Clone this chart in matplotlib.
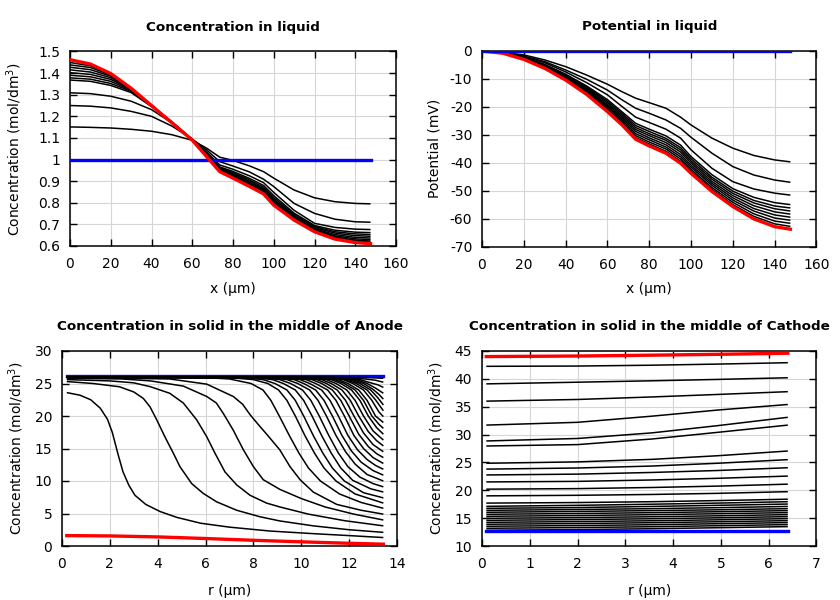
import matplotlib
matplotlib.use("Agg")
import matplotlib.pyplot as plt
from matplotlib.ticker import FuncFormatter

plt.rcParams['font.family'] = ['DejaVu Sans']
plt.rcParams['axes.unicode_minus'] = False

# ---------------- Panel 1: concentration in liquid ----------------
x_liq = [0, 10, 20, 30, 40, 50, 60, 67, 73.5, 80, 88, 95, 100, 110, 120, 130, 140, 147.5]
liq_initial = [1.0] * len(x_liq)
liq_final = [1.462, 1.442, 1.398, 1.33, 1.25, 1.17, 1.09, 1.014, 0.944, 0.914, 0.876, 0.841, 0.789, 0.72, 0.666, 0.632, 0.616, 0.611]
liq_curves = [
    [1.151, 1.149, 1.146, 1.14, 1.131, 1.115, 1.089, 1.053, 1.011, 0.996, 0.971, 0.944, 0.914, 0.859, 0.823, 0.805, 0.797, 0.795],
    [1.25, 1.247, 1.239, 1.223, 1.2, 1.155, 1.095, 1.045, 0.99, 0.97, 0.943, 0.909, 0.875, 0.797, 0.751, 0.724, 0.712, 0.71],
    [1.309, 1.305, 1.293, 1.27, 1.231, 1.17, 1.093, 1.035, 0.975, 0.955, 0.925, 0.893, 0.848, 0.765, 0.705, 0.686, 0.678, 0.676],
    [1.368, 1.362, 1.343, 1.31, 1.245, 1.175, 1.093, 1.03, 0.966, 0.945, 0.913, 0.88, 0.833, 0.752, 0.695, 0.673, 0.664, 0.662],
    [1.378, 1.372, 1.352, 1.316, 1.247, 1.174, 1.092, 1.028, 0.962, 0.939, 0.906, 0.872, 0.824, 0.746, 0.69, 0.666, 0.656, 0.653],
    [1.39, 1.383, 1.362, 1.32, 1.248, 1.173, 1.092, 1.025, 0.958, 0.934, 0.9, 0.865, 0.816, 0.74, 0.685, 0.66, 0.648, 0.645],
    [1.402, 1.394, 1.371, 1.324, 1.249, 1.172, 1.091, 1.023, 0.955, 0.929, 0.894, 0.859, 0.809, 0.735, 0.68, 0.653, 0.64, 0.637],
    [1.415, 1.405, 1.379, 1.326, 1.25, 1.171, 1.091, 1.021, 0.952, 0.925, 0.889, 0.854, 0.803, 0.731, 0.676, 0.647, 0.633, 0.63],
    [1.427, 1.416, 1.386, 1.328, 1.25, 1.171, 1.09, 1.019, 0.95, 0.921, 0.885, 0.85, 0.798, 0.728, 0.673, 0.642, 0.627, 0.623],
    [1.438, 1.426, 1.391, 1.329, 1.25, 1.17, 1.09, 1.017, 0.948, 0.918, 0.881, 0.846, 0.794, 0.725, 0.67, 0.638, 0.622, 0.618],
    [1.449, 1.434, 1.395, 1.33, 1.25, 1.17, 1.09, 1.015, 0.946, 0.916, 0.878, 0.843, 0.791, 0.722, 0.668, 0.635, 0.619, 0.614],
]

# ---------------- Panel 2: potential in liquid ----------------
pot_initial = [0.0] * len(x_liq)
pot_final = [0, -0.8, -3.0, -6.2, -10.4, -15.5, -21.7, -26.5, -31.6, -34.0, -36.6, -40.2, -43.8, -50.3, -55.7, -60.1, -62.9, -63.8]
pot_curves = [
    [0, -0.5, -1.4, -3.2, -5.6, -8.6, -11.9, -14.6, -16.9, -18.5, -20.5, -23.7, -26.5, -31.2, -34.8, -37.4, -39.0, -39.7],
    [0, -0.6, -1.8, -3.8, -6.8, -10.1, -14.0, -17.5, -20.5, -22.3, -24.7, -27.7, -30.9, -36.6, -41.4, -44.4, -46.2, -47.0],
    [0, -0.6, -2.0, -4.2, -7.5, -11.3, -15.7, -19.9, -23.7, -25.6, -28.0, -31.2, -35.4, -42.0, -46.8, -49.4, -50.9, -51.6],
    [0, -0.7, -2.3, -4.8, -8.3, -12.5, -17.4, -21.8, -25.9, -28.0, -30.4, -33.7, -37.8, -44.3, -49.3, -52.4, -54.3, -55.0],
    [0, -0.7, -2.4, -5.0, -8.6, -12.9, -18.0, -22.4, -26.7, -28.8, -31.3, -34.6, -38.6, -45.2, -50.2, -53.5, -55.5, -56.2],
    [0, -0.7, -2.5, -5.1, -8.9, -13.3, -18.5, -23.0, -27.4, -29.6, -32.0, -35.4, -39.4, -45.9, -51.0, -54.4, -56.5, -57.3],
    [0, -0.7, -2.6, -5.3, -9.1, -13.7, -19.1, -23.6, -28.1, -30.3, -32.8, -36.2, -40.1, -46.7, -51.8, -55.4, -57.6, -58.4],
    [0, -0.7, -2.7, -5.5, -9.4, -14.0, -19.6, -24.2, -28.8, -31.1, -33.6, -37.1, -40.9, -47.4, -52.6, -56.4, -58.7, -59.5],
    [0, -0.8, -2.7, -5.7, -9.7, -14.4, -20.1, -24.8, -29.6, -31.8, -34.4, -37.9, -41.6, -48.1, -53.4, -57.3, -59.8, -60.6],
    [0, -0.8, -2.8, -5.9, -9.9, -14.8, -20.7, -25.4, -30.3, -32.6, -35.1, -38.7, -42.4, -48.9, -54.2, -58.3, -60.9, -61.7],
    [0, -0.8, -2.9, -6.0, -10.2, -15.2, -21.2, -26.0, -31.0, -33.3, -35.9, -39.5, -43.1, -49.6, -55.0, -59.2, -61.9, -62.8],
]

# ---------------- Panel 3: solid concentration, anode ----------------
anode_initial_r = [0.2, 13.43]
anode_initial_c = [26.1, 26.1]
anode_final_r = [0.2, 2, 4, 6, 8, 10, 12, 13.43]
anode_final_c = [1.6, 1.55, 1.4, 1.15, 0.88, 0.64, 0.42, 0.28]
anode_r = [
    [0.2, 0.75, 1.2, 1.6, 1.9, 2.1, 2.35, 2.55, 2.8, 3.05, 3.5, 4.1, 4.8, 5.8, 7.0, 8.7, 10.5, 12.0, 13.43],
    [0.2, 1.3, 2.4, 3.0, 3.4, 3.68, 3.96, 4.3, 4.65, 4.93, 5.42, 5.9, 6.46, 7.3, 8.27, 9.11, 10.5, 12.0, 13.43],
    [0.2, 2.0, 3.0, 3.7, 4.5, 5.07, 5.63, 6.05, 6.39, 6.81, 7.3, 7.86, 8.55, 9.11, 10.3, 11.8, 13.43],
    [0.2, 2.5, 3.7, 5.07, 6.05, 6.45, 6.74, 7.16, 7.58, 8.0, 8.41, 9.11, 10.0, 11.0, 12.2, 13.43],
    [0.2, 4.5, 6.05, 7.16, 7.55, 7.86, 8.2, 8.6, 9.1, 9.53, 9.95, 10.5, 11.48, 12.5, 13.43],
    [0.2, 6.0, 7.0, 7.9, 8.4, 8.73, 9.08, 9.5, 9.9, 10.3, 10.8, 11.6, 12.5, 13.43],
    [0.2, 7.0, 8.0, 8.6, 9.05, 9.4, 9.75, 10.15, 10.55, 10.95, 11.45, 12.25, 13.43],
    [0.2, 7.5, 8.4, 8.9, 9.4, 9.75, 10.1, 10.5, 10.9, 11.3, 11.8, 12.6, 13.43],
    [0.2, 8.0, 8.8, 9.25, 9.75, 10.1, 10.45, 10.85, 11.25, 11.65, 12.15, 12.9, 13.43],
    [0.2, 8.3, 9.1, 9.55, 10.05, 10.4, 10.75, 11.15, 11.55, 11.95, 12.45, 13.0, 13.43],
    [0.2, 8.6, 9.4, 9.85, 10.35, 10.7, 11.05, 11.45, 11.85, 12.25, 12.75, 13.43],
    [0.2, 8.9, 9.7, 10.1, 10.6, 10.95, 11.3, 11.7, 12.1, 12.5, 13.0, 13.43],
    [0.2, 9.2, 9.95, 10.35, 10.85, 11.2, 11.55, 11.95, 12.35, 12.75, 13.1, 13.43],
    [0.2, 9.5, 10.2, 10.6, 11.1, 11.45, 11.8, 12.2, 12.6, 13.0, 13.43],
    [0.2, 9.8, 10.45, 10.85, 11.3, 11.65, 12.0, 12.4, 12.8, 13.15, 13.43],
    [0.2, 10.0, 10.65, 11.05, 11.5, 11.85, 12.2, 12.6, 13.0, 13.43],
    [0.2, 10.2, 10.85, 11.25, 11.7, 12.05, 12.4, 12.8, 13.15, 13.43],
    [0.2, 10.4, 11.05, 11.45, 11.9, 12.25, 12.6, 13.0, 13.43],
    [0.2, 10.6, 11.25, 11.65, 12.1, 12.45, 12.8, 13.15, 13.43],
    [0.2, 10.8, 11.4, 11.8, 12.25, 12.6, 12.95, 13.25, 13.43],
    [0.2, 10.9, 11.55, 11.95, 12.4, 12.75, 13.1, 13.43],
    [0.2, 11.1, 11.75, 12.15, 12.6, 12.95, 13.25, 13.43],
    [0.2, 11.2, 11.85, 12.3, 12.75, 13.1, 13.43],
    [0.2, 11.35, 12.0, 12.45, 12.9, 13.2, 13.43],
    [0.2, 11.5, 12.15, 12.6, 13.0, 13.25, 13.43],
    [0.2, 11.65, 12.3, 12.75, 13.1, 13.43],
    [0.2, 11.8, 12.45, 12.9, 13.2, 13.43],
    [0.2, 12.0, 12.65, 13.1, 13.43],
    [0.2, 12.3, 12.9, 13.43],
]
anode_c = [
    [23.6, 23.2, 22.5, 21.2, 19.5, 17.5, 14.0, 11.4, 9.3, 7.8, 6.4, 5.3, 4.4, 3.5, 2.9, 2.3, 1.9, 1.6, 1.3],
    [25.3, 25.0, 24.5, 23.7, 22.7, 21.4, 19.4, 16.8, 14.3, 12.2, 9.6, 8.1, 6.8, 5.5, 4.5, 3.85, 3.1, 2.5, 2.1],
    [25.6, 25.4, 25.1, 24.5, 23.5, 22.0, 19.4, 16.8, 14.3, 11.4, 9.4, 7.8, 6.6, 6.0, 4.9, 3.9, 3.1],
    [25.8, 25.7, 25.4, 24.6, 23.0, 22.0, 20.4, 17.8, 14.8, 12.2, 10.2, 8.7, 7.3, 6.0, 4.9, 4.0],
    [25.9, 25.7, 24.9, 23.0, 21.8, 20.2, 18.7, 17.0, 14.8, 12.2, 10.2, 8.3, 6.4, 5.5, 4.9],
    [26.0, 25.9, 25.7, 25.0, 24.0, 22.4, 20.0, 17.0, 14.3, 12.0, 10.0, 8.0, 6.7, 5.8],
    [26.0, 25.9, 25.6, 25.0, 24.0, 22.4, 20.0, 17.0, 14.3, 12.0, 10.0, 8.0, 6.6],
    [26.0, 25.9, 25.6, 25.0, 24.0, 22.4, 20.0, 17.0, 14.3, 12.0, 10.0, 8.2, 7.4],
    [26.0, 25.9, 25.6, 25.0, 24.0, 22.4, 20.0, 17.0, 14.3, 12.0, 10.1, 8.8, 8.3],
    [26.0, 25.9, 25.6, 25.0, 24.0, 22.4, 20.0, 17.0, 14.3, 12.2, 10.6, 9.6, 9.1],
    [26.0, 25.9, 25.6, 25.0, 24.0, 22.4, 20.0, 17.0, 14.5, 12.6, 11.0, 10.0],
    [26.0, 25.9, 25.6, 25.0, 24.0, 22.4, 20.0, 17.0, 14.6, 12.9, 11.6, 10.9],
    [26.0, 25.9, 25.6, 25.0, 24.0, 22.4, 20.0, 17.0, 14.8, 13.3, 12.4, 11.8],
    [26.0, 25.9, 25.6, 25.0, 24.0, 22.4, 20.0, 17.0, 15.0, 13.6, 12.7],
    [26.0, 25.9, 25.6, 25.0, 24.0, 22.4, 20.0, 17.2, 15.3, 14.2, 13.6],
    [26.0, 25.9, 25.6, 25.0, 24.0, 22.4, 20.0, 17.4, 15.6, 14.5],
    [26.0, 25.9, 25.6, 25.0, 24.0, 22.4, 20.0, 17.6, 16.2, 15.4],
    [26.0, 25.9, 25.6, 25.0, 24.0, 22.4, 20.0, 17.7, 16.3],
    [26.0, 25.9, 25.6, 25.0, 24.0, 22.4, 20.0, 18.2, 17.2],
    [26.0, 25.9, 25.6, 25.0, 24.0, 22.4, 20.0, 18.7, 18.1],
    [26.0, 25.9, 25.6, 25.0, 24.0, 22.4, 20.0, 19.0],
    [26.0, 25.9, 25.6, 25.0, 24.0, 22.4, 20.6, 19.9],
    [26.0, 25.9, 25.6, 25.0, 24.0, 22.5, 20.8],
    [26.0, 25.9, 25.6, 25.0, 24.0, 22.8, 21.7],
    [26.0, 25.9, 25.6, 25.0, 24.1, 23.3, 22.6],
    [26.0, 25.9, 25.6, 25.0, 24.3, 23.5],
    [26.0, 25.9, 25.6, 25.1, 24.8, 24.4],
    [26.0, 25.9, 25.7, 25.5, 25.2],
    [26.0, 25.95, 25.9, 25.8],
]

# ---------------- Panel 4: solid concentration, cathode ----------------
r_cath = [0.09, 2.0, 3.55, 4.93, 6.4]
cath_initial = [12.65, 12.65, 12.65, 12.65, 12.65]
cath_final = [44.0, 44.1, 44.25, 44.4, 44.6]
cath_curves = [
    [42.25, 42.3, 42.45, 42.65, 42.9],
    [39.1, 39.4, 39.65, 39.9, 40.2],
    [36.0, 36.3, 36.75, 37.2, 37.7],
    [31.7, 32.2, 33.3, 34.4, 35.4],
    [28.85, 29.3, 30.3, 31.6, 33.1],
    [27.95, 28.2, 29.2, 30.4, 31.7],
    [24.85, 25.1, 25.55, 26.2, 27.05],
    [23.8, 24.0, 24.35, 24.85, 25.5],
    [22.75, 22.9, 23.2, 23.55, 24.05],
    [21.5, 21.6, 21.85, 22.15, 22.55],
    [20.2, 20.3, 20.5, 20.75, 21.1],
    [19.0, 19.1, 19.25, 19.45, 19.75],
    [17.7, 17.8, 17.95, 18.15, 18.4],
    [17.12, 17.3, 17.5, 17.7, 17.95],
    [16.76, 16.9, 17.1, 17.3, 17.53],
    [16.4, 16.55, 16.7, 16.88, 17.1],
    [16.05, 16.2, 16.35, 16.5, 16.7],
    [15.69, 15.83, 15.98, 16.15, 16.35],
    [15.33, 15.47, 15.62, 15.79, 15.99],
    [14.97, 15.1, 15.25, 15.42, 15.63],
    [14.61, 14.74, 14.89, 15.06, 15.27],
    [14.25, 14.38, 14.53, 14.7, 14.91],
    [13.9, 14.03, 14.18, 14.35, 14.55],
    [13.54, 13.67, 13.82, 14.0, 14.2],
    [13.18, 13.31, 13.46, 13.64, 13.84],
    [12.82, 12.95, 13.1, 13.28, 13.48],
]

# ---------------- Figure ----------------
W, H = 840, 600
fig = plt.figure(figsize=(8.4, 6.0), dpi=100)

def box(l, r, t, b):
    return [l / W, 1 - b / H, (r - l) / W, (b - t) / H]

ax1 = fig.add_axes(box(70, 396, 51.5, 246))
ax2 = fig.add_axes(box(482, 816.5, 51, 246.5))
ax3 = fig.add_axes(box(62, 397, 351, 546))
ax4 = fig.add_axes(box(482, 816.5, 351, 546))

BLK = dict(color='black', lw=1.1, zorder=2, solid_capstyle='butt', solid_joinstyle='round')
THICK = 2.4

def style(ax, xlim, ylim, xt, yt, title, xlabel, ylabel, ylabelpad=6, xlabelpad=8):
    ax.set_xlim(*xlim)
    ax.set_ylim(*ylim)
    ax.set_xticks(xt)
    ax.set_yticks(yt)
    fmt = FuncFormatter(lambda v, p: '%g' % round(v, 6))
    ax.xaxis.set_major_formatter(fmt)
    ax.yaxis.set_major_formatter(fmt)
    ax.tick_params(direction='in', top=True, right=True, length=5, width=1.0,
                   labelsize=10)
    ax.tick_params(axis='x', pad=8)
    ax.tick_params(axis='y', pad=7)
    ax.grid(True, color='#d6d6d6', lw=0.8)
    ax.set_axisbelow(True)
    for s in ax.spines.values():
        s.set_linewidth(1.1)
    ax.set_title(title, fontsize=9.7, fontweight='bold', pad=15)
    ax.set_xlabel(xlabel, fontsize=10, labelpad=xlabelpad)
    ax.set_ylabel(ylabel, fontsize=10, labelpad=ylabelpad)

# Panel 1
for c in liq_curves:
    ax1.plot(x_liq, c, **BLK)
ax1.plot(x_liq, liq_initial, color='#0000ff', lw=THICK, zorder=3)
ax1.plot(x_liq, liq_final, color='#ff0000', lw=THICK, zorder=4)
style(ax1, (0, 160), (0.6, 1.5), range(0, 161, 20),
      [0.6, 0.7, 0.8, 0.9, 1.0, 1.1, 1.2, 1.3, 1.4, 1.5],
      'Concentration in liquid', 'x (µm)', 'Concentration (mol/dm$^3$)',
      ylabelpad=10, xlabelpad=7.5)

# Panel 2
for c in pot_curves:
    ax2.plot(x_liq, c, **BLK)
ax2.plot(x_liq, pot_final, color='#ff0000', lw=THICK, zorder=4)
ax2.plot(x_liq, pot_initial, color='#0000ff', lw=THICK, zorder=5)
style(ax2, (0, 160), (-70, 0), range(0, 161, 20), range(-70, 1, 10),
      'Potential in liquid', 'x (µm)', 'Potential (mV)', xlabelpad=7.5)

# Panel 3
ax3.plot(anode_initial_r, anode_initial_c, color='#0000ff', lw=THICK, zorder=1.5)
for rr, cc in zip(anode_r, anode_c):
    ax3.plot(rr, cc, **BLK)
ax3.plot(anode_final_r, anode_final_c, color='#ff0000', lw=THICK, zorder=4)
style(ax3, (0, 14), (0, 30), range(0, 15, 2), range(0, 31, 5),
      'Concentration in solid in the middle of Anode', 'r (µm)',
      'Concentration (mol/dm$^3$)', xlabelpad=9)

# Panel 4
for c in cath_curves:
    ax4.plot(r_cath, c, **BLK)
ax4.plot(r_cath, cath_initial, color='#0000ff', lw=THICK, zorder=3)
ax4.plot(r_cath, cath_final, color='#ff0000', lw=THICK, zorder=4)
style(ax4, (0, 7), (10, 45), range(0, 8), range(10, 46, 5),
      'Concentration in solid in the middle of Cathode', 'r (µm)',
      'Concentration (mol/dm$^3$)', xlabelpad=9)

fig.savefig('out.png', dpi=100)
